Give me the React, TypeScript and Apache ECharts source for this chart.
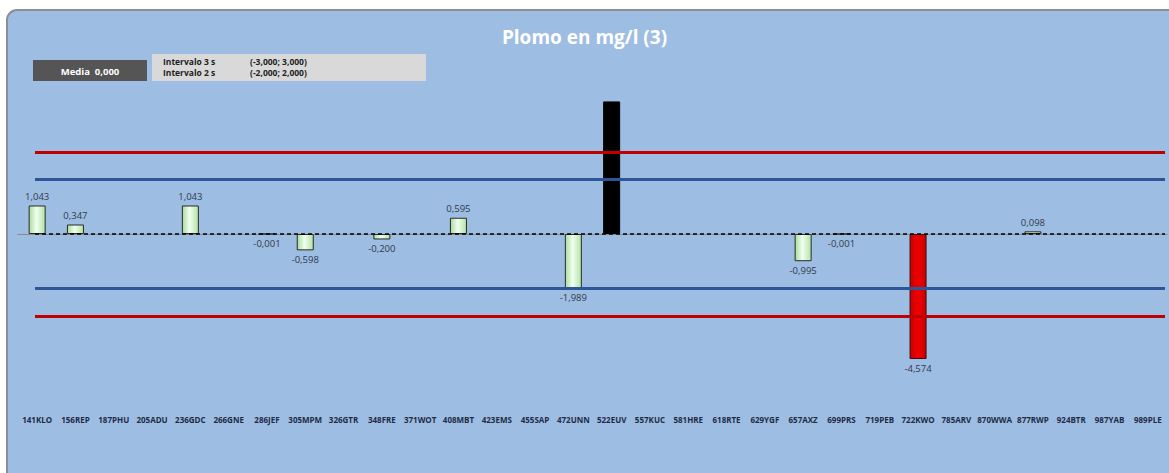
import React, { useEffect, useRef } from "react";
import * as echarts from "echarts";

const categories = [
  "141KLO", "156REP", "187PHU", "205ADU", "236GDC", "266GNE", "286JEF", "305MPM",
  "326GTR", "348FRE", "371WOT", "408MBT", "423EMS", "455SAP", "472UNN", "522EUV",
  "557KUC", "581HRE", "618RTE", "629YGF", "657AXZ", "699PRS", "719PEB", "722KWO",
  "785ARV", "870WWA", "877RWP", "924BTR", "987YAB", "989PLE",
];
const values: (number | null)[] = [
  1.043, 0.347, null, null, 1.043, null, -0.001, -0.598,
  null, -0.2, null, 0.595, null, null, -1.989, 4.85,
  null, null, null, null, -0.995, -0.001, null, -4.574,
  null, null, 0.098, null, null, null,
];
// special colouring: above +3 -> black (no label), below -3 -> red
const limit3 = 3;
const limit2 = 2;
const media = 0;
const titleText = "Plomo en mg/l (3)";
const legendRows = [
  ["Intervalo 3 s", "(-3,000; 3,000)"],
  ["Intervalo 2 s", "(-2,000; 2,000)"],
];
const mediaLabel = "Media  0,000";

const fmt = (v: number) => v.toFixed(3).replace(".", ",");

const greenGrad = () =>
  new echarts.graphic.LinearGradient(0, 0, 1, 0, [
    { offset: 0, color: "#a9dc98" },
    { offset: 0.45, color: "#effff0" },
    { offset: 1, color: "#b4e2a4" },
  ]);

export default function App() {
  const ref = useRef<HTMLDivElement>(null);
  useEffect(() => {
    if (!ref.current) return;
    const chart = echarts.init(ref.current, undefined, { renderer: "svg" });
    const barData = values.map((v) => {
      if (v == null) return { value: null };
      if (v > limit3)
        return {
          value: v,
          itemStyle: { color: "#000000", borderColor: "#000000" },
          label: { show: false },
        };
      if (v < -limit3)
        return {
          value: v,
          itemStyle: {
            color: new echarts.graphic.LinearGradient(0, 0, 1, 0, [
              { offset: 0, color: "#c80000" },
              { offset: 0.5, color: "#f00000" },
              { offset: 1, color: "#c80000" },
            ]),
            borderColor: "#3a1010",
          },
        };
      return { value: v };
    });
    const hline = (y: number, color: string, type: any = "solid", width = 3) => [
      { x: 35, yAxis: y, lineStyle: { color, type, width } },
      { x: 1165, yAxis: y },
    ];
    chart.setOption({
      animation: false,
      title: {
        text: titleText,
        left: "center",
        top: 22,
        textStyle: {
          color: "#ffffff",
          fontSize: 19,
          fontWeight: "bold",
          fontFamily: "Open Sans",
        },
      },
      graphic: [
        {
          type: "rect",
          z: -10,
          shape: { x: 7, y: 10, width: 1180, height: 480, r: 10 },
          style: { fill: "#9ebde3", stroke: "#8a8f96", lineWidth: 2 },
        },
        {
          type: "rect",
          shape: { x: 33, y: 60, width: 114, height: 21 },
          style: { fill: "#555555" },
        },
        {
          type: "text",
          x: 90,
          y: 71,
          style: {
            text: mediaLabel,
            fill: "#ffffff",
            font: "bold 9.5px 'Open Sans'",
            align: "center",
            verticalAlign: "middle",
          },
        },
        {
          type: "rect",
          shape: { x: 152, y: 54, width: 274, height: 27 },
          style: { fill: "#d9d9d9" },
        },
        ...legendRows.flatMap((r, i) => [
          {
            type: "text",
            x: 163,
            y: 61 + i * 11,
            style: {
              text: r[0],
              fill: "#222222",
              font: "bold 8.5px 'Open Sans'",
              verticalAlign: "middle",
            },
          },
          {
            type: "text",
            x: 250,
            y: 61 + i * 11,
            style: {
              text: r[1],
              fill: "#222222",
              font: "bold 8.5px 'Open Sans'",
              verticalAlign: "middle",
            },
          },
        ]),
      ],
      grid: {
        left: 18,
        right: 2,
        top: 70,
        bottom: 75,
        containLabel: false,
        outerBoundsMode: "none",
      },
      xAxis: {
        type: "category",
        data: categories,
        axisLine: { show: true, onZero: true, lineStyle: { color: "#8a8a8a", width: 1 } },
        axisTick: { show: false },
        axisLabel: {
          interval: 0,
          fontSize: 8,
          fontWeight: "bold",
          color: "#1e2b45",
          fontFamily: "Open Sans",
          margin: 17,
        },
      },
      yAxis: {
        type: "value",
        min: -6,
        max: 6,
        show: false,
        splitLine: { show: false },
      },
      series: [
        {
          type: "bar",
          data: barData,
          barWidth: 17,
          itemStyle: { color: greenGrad(), borderColor: "#2a2a2a", borderWidth: 1 },
          label: {
            show: true,
            position: "outside",
            fontSize: 9.5,
            color: "#2f3a4a",
            fontFamily: "Open Sans",
            distance: 4,
            formatter: (p: any) => (p.value == null ? "" : fmt(p.value)),
          },
          z: 2,
          markLine: {
            silent: true,
            symbol: "none",
            label: { show: false },
            z: 3,
            data: [
              hline(limit3, "#c00000"),
              hline(-limit3, "#c00000"),
              hline(limit2, "#2e5597"),
              hline(-limit2, "#2e5597"),
              hline(media, "#000000", [4, 3], 1.5),
            ],
          },
        },
      ],
    });
    return () => chart.dispose();
  }, []);
  return (
    <div
      ref={ref}
      style={{ position: "absolute", left: 0, top: 0, width: 1169, height: 473 }}
    />
  );
}
